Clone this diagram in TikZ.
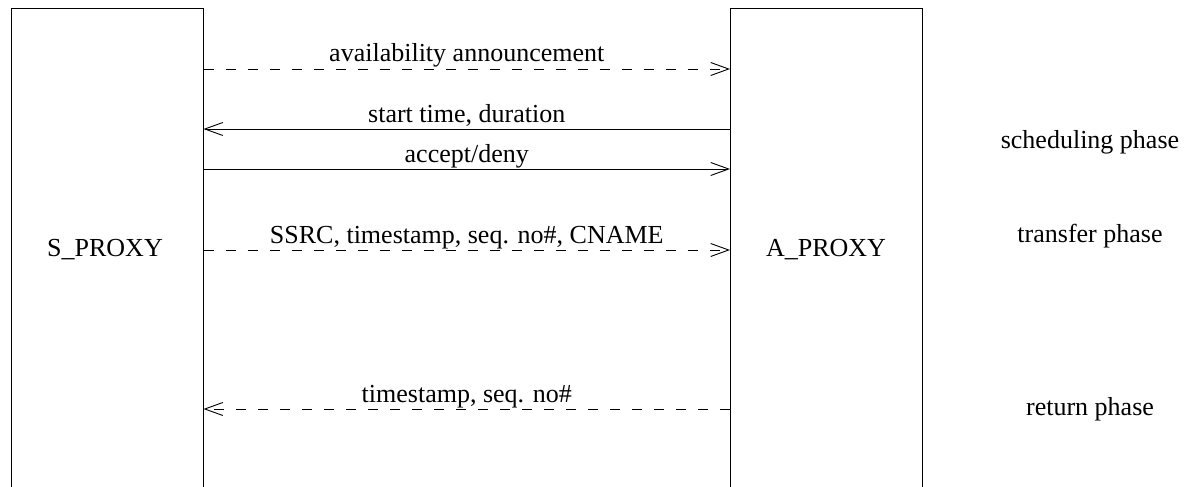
\documentclass[tikz,border=0pt]{standalone}
\usepackage{fontspec}
\setmainfont{Liberation Serif}
\usetikzlibrary{arrows.meta}
\tikzset{
  proxy/.style={draw, line width=1pt, minimum width=192pt, minimum height=500pt, inner sep=0pt},
  msg/.style={line width=0.9pt, -{Straight Barb[length=18pt,width=13pt,line width=0.9pt]}},
  dmsg/.style={msg, dash pattern=on 10pt off 12pt},
  lbl/.style={anchor=base, font=\fontsize{26}{30}\selectfont, inner sep=0pt}
}

\begin{document}
\begin{tikzpicture}[x=1pt,y=-1pt]
        \useasboundingbox (0,0) rectangle (1186,487);
        % the two proxies (open at the bottom)
        \node[proxy] (sp) at (107,259) {};
        \node[proxy] (ap) at (826.5,259) {};
        \node[lbl] (spname) at (105,256) {S\_PROXY};
        \node[lbl] (apname) at (826,256) {A\_PROXY};
        % messages
        \draw[dmsg] (sp.east |- 0,69) -- node[lbl, yshift=7pt]{availability announcement} (ap.west |- 0,69);
        \draw[msg] (ap.west |- 0,129) -- node[lbl, yshift=7pt]{start time, duration} (sp.east |- 0,129);
        \draw[msg] (sp.east |- 0,169) -- node[lbl, yshift=7pt]{accept/deny} (ap.west |- 0,169);
        \draw[dmsg] (sp.east |- 0,250) -- node[lbl, yshift=7pt]{SSRC, timestamp, seq. no\#, CNAME} (ap.west |- 0,250);
        \draw[dmsg] (ap.west |- 0,409) -- node[lbl, yshift=7pt]{timestamp, seq. no\#} (sp.east |- 0,409);
        % phases
        \node[lbl] (sched) at (1090,148) {scheduling phase};
        \node[lbl] (trans) at (1090,242) {transfer phase};
        \node[lbl] (ret) at (1090,415) {return phase};
    \end{tikzpicture}
\end{document}
